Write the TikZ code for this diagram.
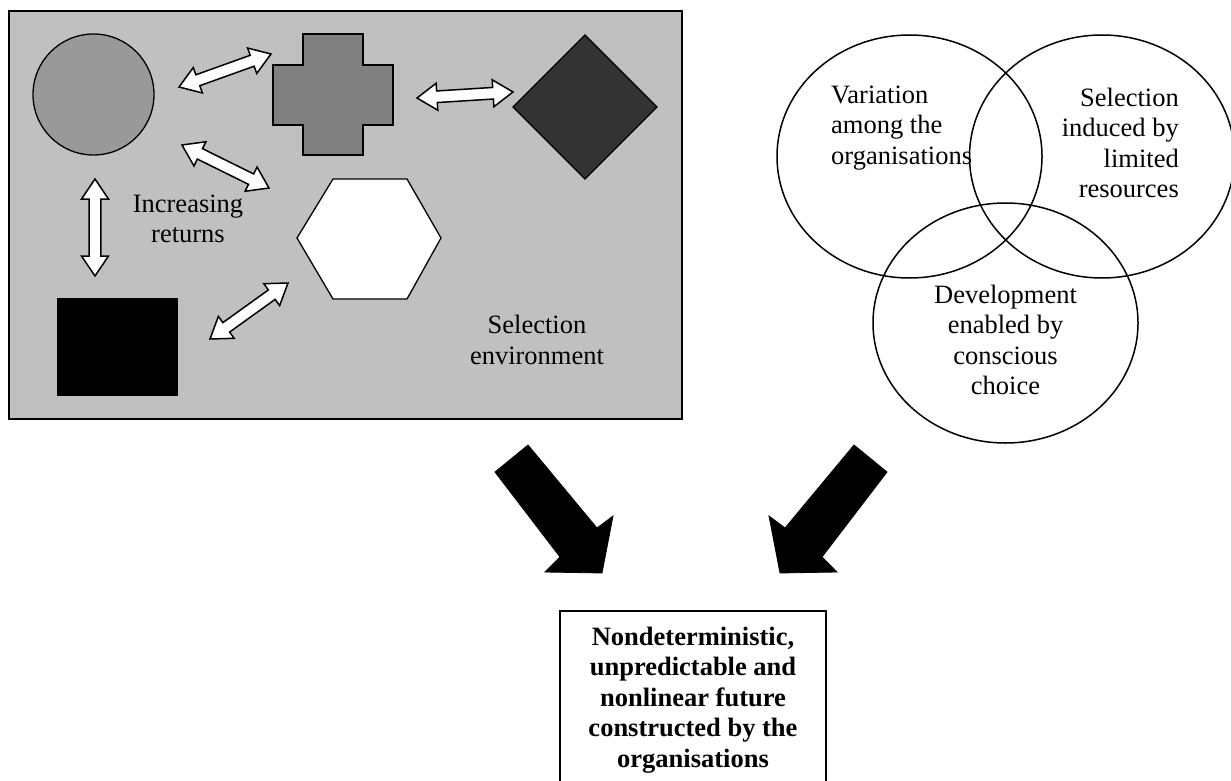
\documentclass[tikz,border=0pt]{standalone}
\usepackage{fontspec}
\setmainfont{Liberation Serif}
\usetikzlibrary{calc,shapes.geometric}
\newcommand\hl{20}
\newcommand\hw{13.5}
\newcommand\sw{5.8}
\newcommand\twoway[2]{%
\draw[dblar] (#1) -- ($(#1)!\hl pt!(#2)!\hw pt!90:(#2)$) -- ($(#1)!\hl pt!(#2)!\sw pt!90:(#2)$)
 -- ($(#2)!\hl pt!(#1)!\sw pt!-90:(#1)$) -- ($(#2)!\hl pt!(#1)!\hw pt!-90:(#1)$) -- (#2)
 -- ($(#2)!\hl pt!(#1)!\hw pt!90:(#1)$) -- ($(#2)!\hl pt!(#1)!\sw pt!90:(#1)$)
 -- ($(#1)!\hl pt!(#2)!\sw pt!-90:(#2)$) -- ($(#1)!\hl pt!(#2)!\hw pt!-90:(#2)$) -- cycle;}
\tikzset{
 dblar/.style={draw=black, fill=white, line width=1.5pt, line join=miter},
 shapeline/.style={draw=black, line width=1.3pt, line join=miter},
 txt/.style={font=\fontsize{26.5}{30.5}\selectfont, inner sep=0pt},
 venn/.style={ellipse, draw=black, line width=1.5pt, inner sep=0pt},
 bigarrow/.style={fill=black, draw=black, line width=0.8pt, line join=miter}
}
\begin{document}
\begin{tikzpicture}[x=1pt,y=-1pt]
\useasboundingbox (0,0) rectangle (1231,781);
\clip (0,0) rectangle (1231,781);
% selection environment
\node[draw=black, line width=1.4pt, fill={rgb,255:red,192;green,192;blue,192}, minimum width=673pt, minimum height=408pt, inner sep=0pt] (env) at (345.5,215) {};
% circle
\node[circle, shapeline, fill={rgb,255:red,153;green,153;blue,153}, minimum size=121pt, inner sep=0pt] (circ) at (93.5,94.5) {};
% cross
\draw[shapeline, fill={rgb,255:red,128;green,128;blue,128}] (303,34) -- (363,34) -- (363,65) -- (393,65) -- (393,125) -- (363,125) -- (363,155) -- (303,155) -- (303,125) -- (273,125) -- (273,65) -- (303,65) -- cycle;
% diamond
\draw[shapeline, fill={rgb,255:red,51;green,51;blue,51}] (585,35) -- (657,107) -- (585,179) -- (513,107) -- cycle;
% hexagon
\draw[shapeline, fill=white] (297,238) -- (333,179) -- (407,179) -- (441,238) -- (407,299) -- (333,299) -- cycle;
% black rectangle
\fill[black] (57,298) rectangle (178,396);
% double arrows
\coordinate (a1s) at (179,87); \coordinate (a1e) at (271,54);
\coordinate (a2s) at (182,145); \coordinate (a2e) at (269,188);
\coordinate (a3s) at (95,179); \coordinate (a3e) at (95,276);
\coordinate (a4s) at (417,98); \coordinate (a4e) at (513,92);
\coordinate (a5s) at (210,339); \coordinate (a5e) at (288,283);
\twoway{a1s}{a1e}
\twoway{a2s}{a2e}
\twoway{a3s}{a3e}
\twoway{a4s}{a4e}
\twoway{a5s}{a5e}
\node[txt, align=center] (incr) at (188,219) {Increasing\\returns};
\node[txt, align=center] (selenv) at (537,340) {Selection\\environment};
% Venn
\node[venn, minimum width=265pt, minimum height=243pt] (vA) at (909.5,156.5) {};
\node[venn, minimum width=265pt, minimum height=243pt] (vB) at (1102,156.5) {};
\node[venn, minimum width=265pt, minimum height=240pt] (vC) at (1005.5,323) {};
\node[txt, align=left, anchor=west] (tA) at (831,128) {Variation\\among the\\organisations};
\node[txt, align=right, anchor=east] (tB) at (1179,143) {Selection\\induced by\\limited\\resources};
\node[txt, align=center] (tC) at (1005.5,340) {Development\\enabled by\\conscious\\choice};
% big arrows
\draw[bigarrow] (495,472) -- (528,445) -- (597,528) -- (613,516) -- (602,573) -- (545,572) -- (560,557) -- cycle;
\draw[bigarrow] (887,472) -- (854,445) -- (785,528) -- (769,516) -- (780,573) -- (837,572) -- (822,557) -- cycle;
% result box
\draw[line width=1.3pt] (560,800) -- (560,611) -- (826,611) -- (826,800);
\node[txt, align=center, font=\fontsize{26.5}{30.5}\selectfont\bfseries] (res) at (693,700) {Nondeterministic,\\unpredictable and\\nonlinear future\\constructed by the\\organisations};
\end{tikzpicture}
\end{document}
